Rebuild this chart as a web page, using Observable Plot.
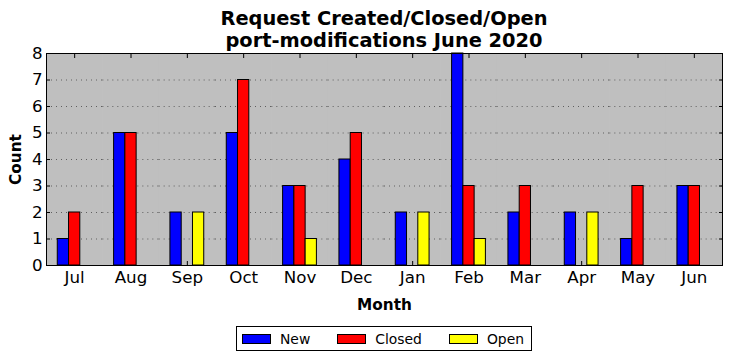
<!DOCTYPE html>
<html>
<head>
<meta charset="utf-8">
<script src="https://cdn.jsdelivr.net/npm/d3@7"></script>
<script src="https://cdn.jsdelivr.net/npm/@observablehq/plot@0.6"></script>
<style>
  html, body { margin: 0; padding: 0; background: white; }
  body { width: 732px; height: 361px; overflow: hidden; font-family: "DejaVu Sans", sans-serif; }
  #title { box-sizing: border-box; height: 52px; padding-top: 8px; margin-left: 46px; width: 676px;
    text-align: center; font-weight: bold; font-size: 19.4px; line-height: 22px; color: black; }
  #chart svg { display: block; }
  #chart g[aria-label="y-axis label"] text, #chart g[aria-label="fx-axis label"] text { font-weight: bold; font-size: 15.3px; }
  #legendwrap { margin-left: 46px; width: 676px; display: flex; justify-content: center; margin-top: 11px; }
  #legend { box-sizing: border-box; height: 25px; border: 1px solid black; display: flex; align-items: center;
    padding: 0 7px 0 5px; font-size: 13.9px; color: black; }
  .item { display: flex; align-items: center; margin-right: 27px; }
  .item:last-child { margin-right: 0; }
  .sw { width: 27px; height: 8px; border: 1px solid black; margin-right: 9px; }
</style>
</head>
<body>
<div id="title">Request Created/Closed/Open<br>port-modifications June 2020</div>
<div id="chart"></div>
<div id="legendwrap"><div id="legend"></div></div>
<script>
const months = ["Jul", "Aug", "Sep", "Oct", "Nov", "Dec", "Jan", "Feb", "Mar", "Apr", "May", "Jun"];
const newCounts    = [1, 5, 2, 5, 3, 4, 2, 8, 2, 2, 1, 3];
const closedCounts = [2, 5, 0, 7, 3, 5, 0, 3, 3, 0, 3, 3];
const openCounts   = [0, 0, 2, 0, 1, 0, 2, 1, 0, 2, 0, 0];
const seriesNames  = ["New", "Closed", "Open"];
const seriesColors = ["#0000ff", "#ff0000", "#ffff00"];
const yTicks = [0, 1, 2, 3, 4, 5, 6, 7, 8];
const gridTicks = [1, 2, 3, 4, 5, 6, 7];

const seriesValues = [newCounts, closedCounts, openCounts];
const data = [];
months.forEach((m, i) => {
  seriesNames.forEach((s, j) => data.push({month: m, series: s, value: seriesValues[j][i]}));
});

const chart = Plot.plot({
  width: 732,
  height: 263,
  marginLeft: 46,
  marginRight: 10,
  marginTop: 1,
  marginBottom: 50,
  style: {fontFamily: "DejaVu Sans", fontSize: "16.7px", background: "white", color: "black", overflow: "visible"},
  fx: {domain: months, padding: 0, round: false},
  x: {domain: seriesNames, paddingInner: 0, paddingOuter: 1, round: false, axis: null},
  y: {domain: [0, 8]},
  color: {domain: seriesNames, range: seriesColors},
  marks: [
    Plot.frame({fill: "#bfbfbf", stroke: "#bfbfbf", strokeWidth: 1}),
    Plot.gridY(gridTicks, {stroke: "black", strokeOpacity: 0.5, strokeWidth: 1, strokeDasharray: "1,4"}),
    Plot.axisFx({anchor: "bottom", tickSize: -4, text: null, label: null, stroke: "black"}),
    Plot.barY(data, {fx: "month", x: "series", y: "value", fill: "series", stroke: "black", strokeWidth: 1}),
    Plot.axisFx({anchor: "top", tickSize: -4, text: null, label: null, stroke: "black"}),
    Plot.axisY(yTicks, {anchor: "left", tickSize: -4, text: null, label: null, stroke: "black"}),
    Plot.axisY(yTicks, {anchor: "right", tickSize: -4, text: null, label: null, stroke: "black"}),
    Plot.axisY(yTicks, {anchor: "left", tickSize: 0, tickPadding: 4, fontSize: 16.7, label: "Count", labelAnchor: "center", labelArrow: "none", labelOffset: 36}),
    Plot.axisFx({anchor: "bottom", tickSize: 0, tickPadding: 6, fontSize: 16.7, label: "Month", labelAnchor: "center", labelArrow: "none", labelOffset: 44}),
    Plot.frame({anchor: "top", stroke: "black"}),
    Plot.frame({anchor: "bottom", stroke: "black"}),
    Plot.frame({anchor: "left", stroke: "black", facetAnchor: "left"}),
    Plot.frame({anchor: "right", stroke: "black", facetAnchor: "right"})
  ]
});
document.getElementById("chart").appendChild(chart);

const legend = document.getElementById("legend");
seriesNames.forEach((s, j) => {
  const item = document.createElement("div");
  item.className = "item";
  const sw = document.createElement("div");
  sw.className = "sw";
  sw.style.background = seriesColors[j];
  const t = document.createElement("span");
  t.textContent = s;
  item.appendChild(sw);
  item.appendChild(t);
  legend.appendChild(item);
});
</script>
</body>
</html>
